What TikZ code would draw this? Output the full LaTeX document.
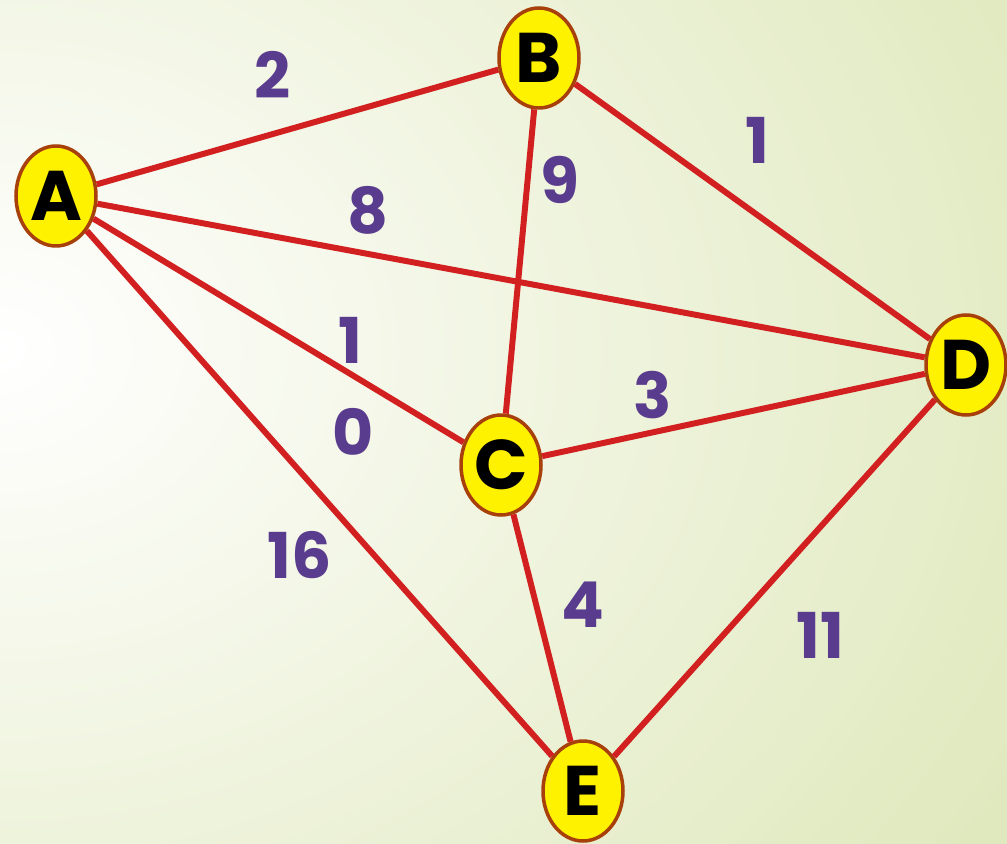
\documentclass[tikz,border=0pt]{standalone}
\usepackage{fontspec}
\setmainfont{Poppins}
\usetikzlibrary{shapes.geometric}
\definecolor{my_red}{HTML}{D21F1F}
\definecolor{my_yellow}{HTML}{FFF200}
\definecolor{my_rim}{HTML}{A8400C}
\definecolor{my_purple}{HTML}{5A3C8E}
\definecolor{my_green}{HTML}{E0E9BE}

\begin{document}
\begin{tikzpicture}[
    x=0.02cm, y=-0.02cm,
    vertex/.style={ellipse, draw=my_rim, line width=2pt, fill=my_yellow,
        minimum width=1.6cm, minimum height=2cm, inner sep=0pt,
        font=\fontsize{40}{40}\selectfont\bfseries, text=black},
    weight/.style={font=\fontsize{36}{36}\selectfont\bfseries, text=my_purple},
    link/.style={draw=my_red, line width=3.4pt}
]

% ================================================================
% Hintergrund (links weiss, nach rechts hellgruen)
% ================================================================
\useasboundingbox (0,0) rectangle (1007,844);
\begin{scope}
\clip (0,0) rectangle (1007,844);
\shade[inner color=white, outer color=my_green] (-1150,-550) rectangle (1150,1250);
\end{scope}

% ================================================================
% Knoten
% ================================================================
\node[vertex] (A) at (56,196)  {A};
\node[vertex] (B) at (539,58)  {B};
\node[vertex] (C) at (501,465) {C};
\node[vertex] (D) at (966,365) {D};
\node[vertex] (E) at (583,791) {E};

% ================================================================
% Kanten
% ================================================================
\foreach \u/\v in {A/B, A/D, A/C, A/E, B/C, B/D, C/D, C/E, D/E}
    \draw[link] (\u) -- (\v);

% ================================================================
% Gewichte
% ================================================================
\node[weight] (w_ab) at (273,75)  {2};
\node[weight] (w_bd) at (757,140) {1};
\node[weight] (w_bc) at (560,180) {9};
\node[weight] (w_ad) at (368,210) {8};
\node[weight] (w_ac) at (350,340) {1};
\node[weight] (w_a0) at (353,432) {0};
\node[weight] (w_cd) at (653,395) {3};
\node[weight] (w_ae) at (300,555) {16};
\node[weight] (w_ce) at (583,605) {4};
\node[weight] (w_de) at (820,635) {11};

\end{tikzpicture}
\end{document}
